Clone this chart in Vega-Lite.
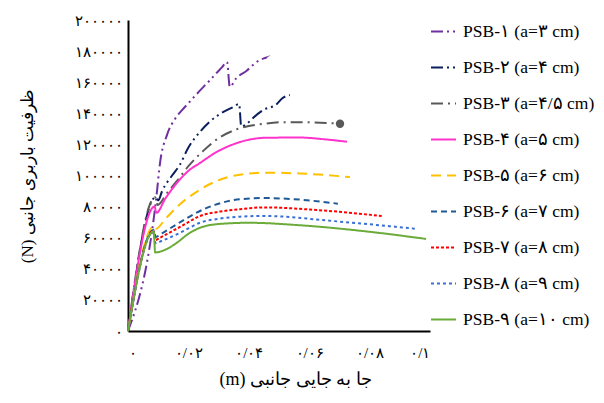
{
  "$schema": "https://vega.github.io/schema/vega-lite/v6.json",
  "width": 302,
  "height": 311,
  "autosize": {"type": "none"},
  "padding": {"left": 128, "top": 20, "right": 174, "bottom": 72},
  "background": "white",
  "config": {
    "view": {"stroke": null},
    "locale": {"number": {"decimal": "/", "thousands": ",", "grouping": [3], "currency": ["", ""], "numerals": ["۰","۱","۲","۳","۴","۵","۶","۷","۸","۹"]}},
    "axis": {"grid": false, "ticks": false, "tickSize": 0, "domainColor": "black", "domainWidth": 2, "labelColor": "black", "labelFont": "Liberation Serif", "labelFontSize": 15, "titleFont": "Liberation Serif", "titleFontSize": 17, "titleFontWeight": "normal", "titleColor": "black"}
  },
  "data": {"values": [
    {"series": "PSB-۱ (a=۳ cm)", "x": 0, "y": 0},
    {"series": "PSB-۱ (a=۳ cm)", "x": 0.0095, "y": 88000},
    {"series": "PSB-۱ (a=۳ cm)", "x": 0.0106, "y": 108000},
    {"series": "PSB-۱ (a=۳ cm)", "x": 0.0129, "y": 126000},
    {"series": "PSB-۱ (a=۳ cm)", "x": 0.0156, "y": 136500},
    {"series": "PSB-۱ (a=۳ cm)", "x": 0.0179, "y": 142000},
    {"series": "PSB-۱ (a=۳ cm)", "x": 0.02, "y": 146500},
    {"series": "PSB-۱ (a=۳ cm)", "x": 0.0228, "y": 152500},
    {"series": "PSB-۱ (a=۳ cm)", "x": 0.0255, "y": 158000},
    {"series": "PSB-۱ (a=۳ cm)", "x": 0.0275, "y": 162000},
    {"series": "PSB-۱ (a=۳ cm)", "x": 0.0291, "y": 165500},
    {"series": "PSB-۱ (a=۳ cm)", "x": 0.0311, "y": 169500},
    {"series": "PSB-۱ (a=۳ cm)", "x": 0.0328, "y": 173000},
    {"series": "PSB-۱ (a=۳ cm)", "x": 0.0337, "y": 157000},
    {"series": "PSB-۱ (a=۳ cm)", "x": 0.0358, "y": 162500},
    {"series": "PSB-۱ (a=۳ cm)", "x": 0.0394, "y": 167500},
    {"series": "PSB-۱ (a=۳ cm)", "x": 0.041, "y": 170500},
    {"series": "PSB-۱ (a=۳ cm)", "x": 0.043, "y": 173500},
    {"series": "PSB-۱ (a=۳ cm)", "x": 0.0459, "y": 176000},

    {"series": "PSB-۲ (a=۴ cm)", "x": 0, "y": 0},
    {"series": "PSB-۲ (a=۴ cm)", "x": 0.0092, "y": 86000},
    {"series": "PSB-۲ (a=۴ cm)", "x": 0.01, "y": 84000},
    {"series": "PSB-۲ (a=۴ cm)", "x": 0.0113, "y": 90000},
    {"series": "PSB-۲ (a=۴ cm)", "x": 0.0146, "y": 100000},
    {"series": "PSB-۲ (a=۴ cm)", "x": 0.0172, "y": 107000},
    {"series": "PSB-۲ (a=۴ cm)", "x": 0.02, "y": 118000},
    {"series": "PSB-۲ (a=۴ cm)", "x": 0.0238, "y": 128000},
    {"series": "PSB-۲ (a=۴ cm)", "x": 0.027, "y": 134500},
    {"series": "PSB-۲ (a=۴ cm)", "x": 0.03, "y": 139000},
    {"series": "PSB-۲ (a=۴ cm)", "x": 0.0348, "y": 144000},
    {"series": "PSB-۲ (a=۴ cm)", "x": 0.0368, "y": 146000},
    {"series": "PSB-۲ (a=۴ cm)", "x": 0.0375, "y": 131500},
    {"series": "PSB-۲ (a=۴ cm)", "x": 0.0395, "y": 133500},
    {"series": "PSB-۲ (a=۴ cm)", "x": 0.0414, "y": 137000},
    {"series": "PSB-۲ (a=۴ cm)", "x": 0.0447, "y": 142000},
    {"series": "PSB-۲ (a=۴ cm)", "x": 0.0493, "y": 146000},
    {"series": "PSB-۲ (a=۴ cm)", "x": 0.051, "y": 149500},
    {"series": "PSB-۲ (a=۴ cm)", "x": 0.0536, "y": 151700},

    {"series": "PSB-۳ (a=۴/۵ cm)", "x": 0, "y": 0},
    {"series": "PSB-۳ (a=۴/۵ cm)", "x": 0.009, "y": 86000},
    {"series": "PSB-۳ (a=۴/۵ cm)", "x": 0.0098, "y": 81000},
    {"series": "PSB-۳ (a=۴/۵ cm)", "x": 0.013, "y": 89000},
    {"series": "PSB-۳ (a=۴/۵ cm)", "x": 0.016, "y": 96000},
    {"series": "PSB-۳ (a=۴/۵ cm)", "x": 0.02, "y": 106000},
    {"series": "PSB-۳ (a=۴/۵ cm)", "x": 0.025, "y": 116000},
    {"series": "PSB-۳ (a=۴/۵ cm)", "x": 0.03, "y": 124000},
    {"series": "PSB-۳ (a=۴/۵ cm)", "x": 0.035, "y": 129000},
    {"series": "PSB-۳ (a=۴/۵ cm)", "x": 0.04, "y": 131800},
    {"series": "PSB-۳ (a=۴/۵ cm)", "x": 0.045, "y": 133300},
    {"series": "PSB-۳ (a=۴/۵ cm)", "x": 0.0515, "y": 134300},
    {"series": "PSB-۳ (a=۴/۵ cm)", "x": 0.06, "y": 134200},
    {"series": "PSB-۳ (a=۴/۵ cm)", "x": 0.0702, "y": 133300},

    {"series": "PSB-۴ (a=۵ cm)", "x": 0, "y": 0},
    {"series": "PSB-۴ (a=۵ cm)", "x": 0.0088, "y": 80000},
    {"series": "PSB-۴ (a=۵ cm)", "x": 0.0094, "y": 76000},
    {"series": "PSB-۴ (a=۵ cm)", "x": 0.0123, "y": 85000},
    {"series": "PSB-۴ (a=۵ cm)", "x": 0.0172, "y": 97500},
    {"series": "PSB-۴ (a=۵ cm)", "x": 0.02, "y": 103000},
    {"series": "PSB-۴ (a=۵ cm)", "x": 0.0238, "y": 108000},
    {"series": "PSB-۴ (a=۵ cm)", "x": 0.0288, "y": 114500},
    {"series": "PSB-۴ (a=۵ cm)", "x": 0.0348, "y": 120000},
    {"series": "PSB-۴ (a=۵ cm)", "x": 0.04, "y": 123000},
    {"series": "PSB-۴ (a=۵ cm)", "x": 0.0459, "y": 124300},
    {"series": "PSB-۴ (a=۵ cm)", "x": 0.057, "y": 124400},
    {"series": "PSB-۴ (a=۵ cm)", "x": 0.065, "y": 123300},
    {"series": "PSB-۴ (a=۵ cm)", "x": 0.0725, "y": 121700},

    {"series": "PSB-۵ (a=۶ cm)", "x": 0, "y": 0},
    {"series": "PSB-۵ (a=۶ cm)", "x": 0.0085, "y": 67000},
    {"series": "PSB-۵ (a=۶ cm)", "x": 0.009, "y": 65500},
    {"series": "PSB-۵ (a=۶ cm)", "x": 0.0128, "y": 73000},
    {"series": "PSB-۵ (a=۶ cm)", "x": 0.0172, "y": 81500},
    {"series": "PSB-۵ (a=۶ cm)", "x": 0.0227, "y": 89500},
    {"series": "PSB-۵ (a=۶ cm)", "x": 0.0294, "y": 96500},
    {"series": "PSB-۵ (a=۶ cm)", "x": 0.037, "y": 100500},
    {"series": "PSB-۵ (a=۶ cm)", "x": 0.0459, "y": 101800},
    {"series": "PSB-۵ (a=۶ cm)", "x": 0.057, "y": 101300},
    {"series": "PSB-۵ (a=۶ cm)", "x": 0.0735, "y": 99000},

    {"series": "PSB-۶ (a=۷ cm)", "x": 0, "y": 0},
    {"series": "PSB-۶ (a=۷ cm)", "x": 0.0085, "y": 65000},
    {"series": "PSB-۶ (a=۷ cm)", "x": 0.0092, "y": 60500},
    {"series": "PSB-۶ (a=۷ cm)", "x": 0.011, "y": 62500},
    {"series": "PSB-۶ (a=۷ cm)", "x": 0.0161, "y": 68600},
    {"series": "PSB-۶ (a=۷ cm)", "x": 0.0227, "y": 76100},
    {"series": "PSB-۶ (a=۷ cm)", "x": 0.0294, "y": 81500},
    {"series": "PSB-۶ (a=۷ cm)", "x": 0.037, "y": 84700},
    {"series": "PSB-۶ (a=۷ cm)", "x": 0.045, "y": 85500},
    {"series": "PSB-۶ (a=۷ cm)", "x": 0.0547, "y": 84800},
    {"series": "PSB-۶ (a=۷ cm)", "x": 0.0695, "y": 81900},

    {"series": "PSB-۷ (a=۸ cm)", "x": 0, "y": 0},
    {"series": "PSB-۷ (a=۸ cm)", "x": 0.0085, "y": 64500},
    {"series": "PSB-۷ (a=۸ cm)", "x": 0.0091, "y": 58500},
    {"series": "PSB-۷ (a=۸ cm)", "x": 0.0106, "y": 60000},
    {"series": "PSB-۷ (a=۸ cm)", "x": 0.0172, "y": 66900},
    {"series": "PSB-۷ (a=۸ cm)", "x": 0.0238, "y": 73900},
    {"series": "PSB-۷ (a=۸ cm)", "x": 0.0305, "y": 76800},
    {"series": "PSB-۷ (a=۸ cm)", "x": 0.037, "y": 78300},
    {"series": "PSB-۷ (a=۸ cm)", "x": 0.045, "y": 79500},
    {"series": "PSB-۷ (a=۸ cm)", "x": 0.0625, "y": 77800},
    {"series": "PSB-۷ (a=۸ cm)", "x": 0.084, "y": 74000},

    {"series": "PSB-۸ (a=۹ cm)", "x": 0, "y": 0},
    {"series": "PSB-۸ (a=۹ cm)", "x": 0.0085, "y": 64000},
    {"series": "PSB-۸ (a=۹ cm)", "x": 0.0091, "y": 56500},
    {"series": "PSB-۸ (a=۹ cm)", "x": 0.0111, "y": 57900},
    {"series": "PSB-۸ (a=۹ cm)", "x": 0.0178, "y": 63700},
    {"series": "PSB-۸ (a=۹ cm)", "x": 0.0238, "y": 69600},
    {"series": "PSB-۸ (a=۹ cm)", "x": 0.0305, "y": 72300},
    {"series": "PSB-۸ (a=۹ cm)", "x": 0.037, "y": 73500},
    {"series": "PSB-۸ (a=۹ cm)", "x": 0.045, "y": 74000},
    {"series": "PSB-۸ (a=۹ cm)", "x": 0.068, "y": 70700},
    {"series": "PSB-۸ (a=۹ cm)", "x": 0.095, "y": 65800},

    {"series": "PSB-۹ (a=۱۰ cm)", "x": 0, "y": 0},
    {"series": "PSB-۹ (a=۱۰ cm)", "x": 0.0085, "y": 64000},
    {"series": "PSB-۹ (a=۱۰ cm)", "x": 0.009, "y": 50500},
    {"series": "PSB-۹ (a=۱۰ cm)", "x": 0.012, "y": 52000},
    {"series": "PSB-۹ (a=۱۰ cm)", "x": 0.016, "y": 56500},
    {"series": "PSB-۹ (a=۱۰ cm)", "x": 0.02, "y": 62500},
    {"series": "PSB-۹ (a=۱۰ cm)", "x": 0.024, "y": 66500},
    {"series": "PSB-۹ (a=۱۰ cm)", "x": 0.03, "y": 68800},
    {"series": "PSB-۹ (a=۱۰ cm)", "x": 0.04, "y": 69600},
    {"series": "PSB-۹ (a=۱۰ cm)", "x": 0.057, "y": 68000},
    {"series": "PSB-۹ (a=۱۰ cm)", "x": 0.08, "y": 63800},
    {"series": "PSB-۹ (a=۱۰ cm)", "x": 0.0987, "y": 59200}
  ]},
  "encoding": {
    "x": {"field": "x", "type": "quantitative", "scale": {"domain": [0, 0.1], "nice": false}, "axis": {"values": [0, 0.02, 0.04, 0.06, 0.08, 0.1], "format": "~g", "labelPadding": 14, "title": "(m) جا به جایی جانبی", "titlePadding": 10, "titleX": 167, "titleFontSize": 18}},
    "y": {"field": "y", "type": "quantitative", "scale": {"domain": [0, 200000], "nice": false}, "axis": {"values": [0, 20000, 40000, 60000, 80000, 100000, 120000, 140000, 160000, 180000, 200000], "format": "d", "labelPadding": 6, "title": "(N) ظرفیت باربری جانبی", "titlePadding": 38}}
  },
  "layer": [
    {
      "mark": {"type": "line", "interpolate": "monotone"},
      "encoding": {
        "color": {"field": "series", "type": "nominal", "scale": {"domain": ["PSB-۱ (a=۳ cm)", "PSB-۲ (a=۴ cm)", "PSB-۳ (a=۴/۵ cm)", "PSB-۴ (a=۵ cm)", "PSB-۵ (a=۶ cm)", "PSB-۶ (a=۷ cm)", "PSB-۷ (a=۸ cm)", "PSB-۸ (a=۹ cm)", "PSB-۹ (a=۱۰ cm)"], "range": ["#7030A0", "#0A1F5C", "#595959", "#FF33CC", "#FFC000", "#1F5A96", "#FF0000", "#3A6FD6", "#6AAB3A"]}, "legend": {"title": null, "orient": "none", "legendX": 302, "legendY": -2, "symbolType": "stroke", "symbolSize": 625, "rowPadding": 14, "labelFont": "Liberation Serif", "labelFontSize": 17.5, "labelColor": "black", "labelOffset": 6, "labelLimit": 200}},
        "strokeDash": {"field": "series", "type": "nominal", "scale": {"domain": ["PSB-۱ (a=۳ cm)", "PSB-۲ (a=۴ cm)", "PSB-۳ (a=۴/۵ cm)", "PSB-۴ (a=۵ cm)", "PSB-۵ (a=۶ cm)", "PSB-۶ (a=۷ cm)", "PSB-۷ (a=۸ cm)", "PSB-۸ (a=۹ cm)", "PSB-۹ (a=۱۰ cm)"], "range": [[12, 4, 2, 4, 2, 4], [12, 4, 2, 4, 2, 4], [12, 5, 2, 5], [1, 0], [10, 6], [6, 4], [3, 2], [3, 3], [1, 0]]}},
        "strokeWidth": {"field": "series", "type": "nominal", "scale": {"domain": ["PSB-۱ (a=۳ cm)", "PSB-۲ (a=۴ cm)", "PSB-۳ (a=۴/۵ cm)", "PSB-۴ (a=۵ cm)", "PSB-۵ (a=۶ cm)", "PSB-۶ (a=۷ cm)", "PSB-۷ (a=۸ cm)", "PSB-۸ (a=۹ cm)", "PSB-۹ (a=۱۰ cm)"], "range": [2, 2, 2, 2, 2, 2.5, 2.5, 3.5, 2]}}
      }
    },
    {
      "transform": [
        {"filter": "datum.series == 'PSB-۳ (a=۴/۵ cm)'"},
        {"joinaggregate": [{"op": "max", "field": "x", "as": "xmax"}]},
        {"filter": "datum.x == datum.xmax"}
      ],
      "mark": {"type": "point", "shape": "circle", "filled": true, "size": 70, "color": "#595959", "opacity": 1}
    },
    {
      "transform": [
        {"filter": "datum.series == 'PSB-۱ (a=۳ cm)'"},
        {"joinaggregate": [{"op": "max", "field": "x", "as": "xmax"}]},
        {"filter": "datum.x == datum.xmax"}
      ],
      "mark": {"type": "point", "shape": "wedge", "filled": true, "size": 60, "angle": 60, "color": "#7030A0", "opacity": 1}
    }
  ]
}
